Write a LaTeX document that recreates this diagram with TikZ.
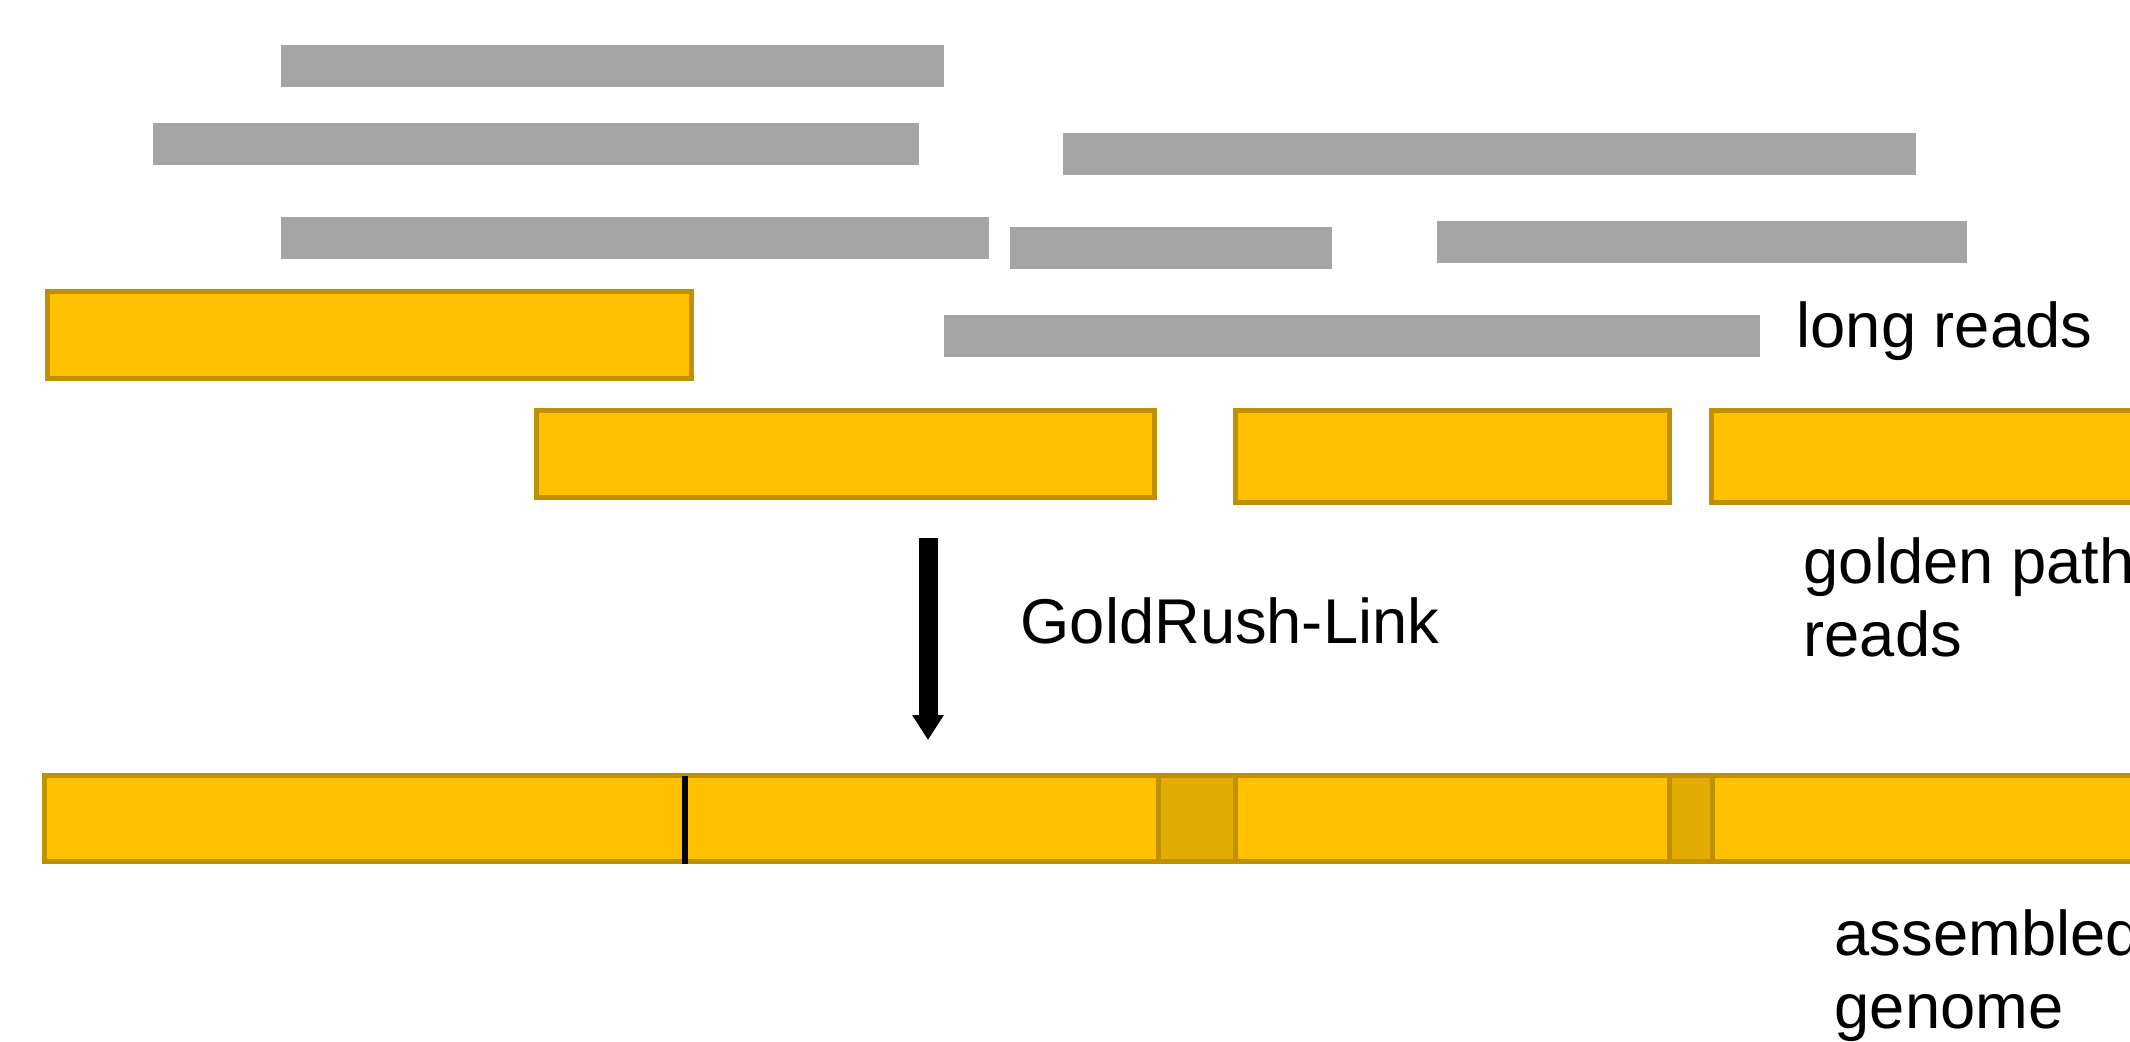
\documentclass[tikz,border=0pt]{standalone}
\usepackage{fontspec}
\setmainfont{Liberation Sans}
\usetikzlibrary{positioning, arrows.meta}
\definecolor{readgray}{HTML}{A5A5A5}
\definecolor{goldfill}{HTML}{FFC000}
\definecolor{golddraw}{HTML}{BF9000}
\definecolor{golddark}{HTML}{E2AC05}

\begin{document}
\begin{tikzpicture}[
    read/.style={rectangle, fill=readgray, minimum height=0.42cm, inner sep=0pt, anchor=north west},
    golden/.style={rectangle, draw=golddraw, fill=goldfill, line width=1.5pt, minimum height=0.87cm, inner sep=0pt, anchor=north west},
    gap/.style={golden, fill=golddark},
    lbl/.style={anchor=west, inner sep=0pt, align=left, font=\fontsize{18}{20.8}\selectfont}
]
    \useasboundingbox (0,0) rectangle (21.30,-10.41);
    \clip (0,0) rectangle (21.30,-10.41);

    % long reads
    \node[read, minimum width=6.63cm] (g1) at (2.80,-0.44) {};
    \node[read, minimum width=7.66cm] (g2) at (1.52,-1.22) {};
    \node[read, minimum width=8.53cm] (g3) at (10.62,-1.32) {};
    \node[read, minimum width=7.08cm] (g4) at (2.80,-2.16) {};
    \node[read, minimum width=3.22cm] (g5) at (10.09,-2.26) {};
    \node[read, minimum width=5.30cm] (g6) at (14.36,-2.20) {};
    \node[read, minimum width=8.16cm] (g7) at (9.43,-3.14) {};

    % golden path reads
    \node[golden, minimum width=6.44cm] (y1) at (0.45,-2.89) {};
    \node[golden, minimum width=6.18cm] (y2) at (5.34,-4.08) {};
    \node[golden, minimum width=4.34cm, minimum height=0.92cm] (y3) at (12.33,-4.08) {};
    \node[golden, minimum width=4.60cm, minimum height=0.92cm] (y4) at (17.09,-4.08) {};

    % assembled genome
    \node[golden, minimum width=21.30cm, minimum height=0.86cm] (asm) at (0.42,-7.73) {};
    \node[gap, minimum width=0.77cm, minimum height=0.86cm] (gap1) at (11.56,-7.73) {};
    \node[gap, minimum width=0.43cm, minimum height=0.86cm] (gap2) at (16.67,-7.73) {};
    \coordinate (jtop) at (6.85,-7.76);
    \coordinate (jbot) at (6.85,-8.64);
    \draw[line width=1.9pt] (jtop) -- (jbot);

    % step arrow
    \coordinate (arrtop) at (9.28,-5.38);
    \coordinate (arrtip) at (9.28,-7.40);
    \draw[line width=0.19cm, -{Triangle[width=3.0mm, length=2.5mm]}] (arrtop) -- (arrtip);

    \node[lbl] (link) at (10.20,-6.21) {GoldRush-Link};
    \node[lbl] (lrlbl) at (17.96,-3.31) {long reads};
    \node[lbl] (gplbl) at (18.03,-5.97) {golden path\\reads};
    \node[lbl] (aglbl) at (18.34,-9.76) {assembled\\genome};
\end{tikzpicture}
\end{document}
